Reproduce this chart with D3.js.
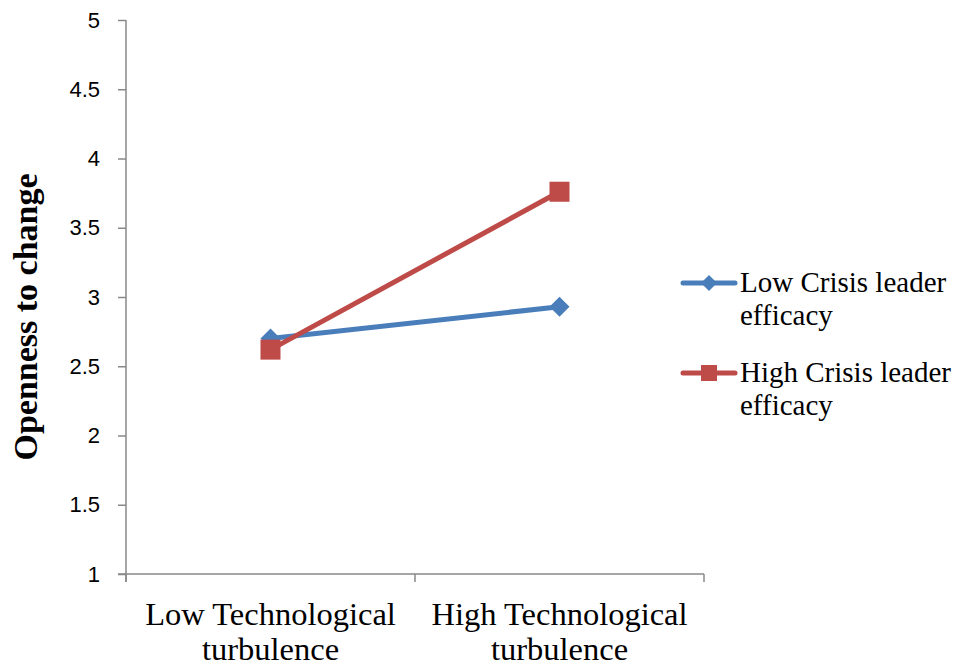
<!DOCTYPE html>
<html>
<head>
<meta charset="utf-8">
<script src="https://cdn.jsdelivr.net/npm/d3@7"></script>
<style>
  html, body { margin: 0; padding: 0; background: #fff; }
  svg { display: block; }
</style>
</head>
<body>
<div id="chart"></div>
<script>
// ---- data ----
const categories = [["Low Technological", "turbulence"], ["High Technological", "turbulence"]];
const seriesNames = [["Low Crisis leader", "efficacy"], ["High Crisis leader", "efficacy"]];
const lowCrisisValues = [2.70, 2.93];
const highCrisisValues = [2.62, 3.76];
const yTicks = [1, 1.5, 2, 2.5, 3, 3.5, 4, 4.5, 5];
const yTitle = "Openness to change";

const W = 958, H = 669;
const svg = d3.select("#chart").append("svg").attr("width", W).attr("height", H);

const x = d3.scaleBand().domain([0, 1]).range([126, 704]);
const y = d3.scaleLinear().domain([1, 5]).range([574, 20]);

const axisColor = "#898989";

// y axis
const yAxis = d3.axisLeft(y).tickValues(yTicks).tickSize(8).tickPadding(18)
  .tickFormat(d => String(d));
const gy = svg.append("g").attr("transform", "translate(126,0)").call(yAxis);
gy.select(".domain").remove();
gy.append("line").attr("x1", 0).attr("x2", 0).attr("y1", y(5)).attr("y2", y(1) + 8)
  .attr("stroke", axisColor).attr("stroke-width", 1.5);
gy.selectAll(".tick line").attr("stroke", axisColor).attr("stroke-width", 1.5);
gy.selectAll(".tick text").attr("fill", "#000")
  .style("font-family", "'Liberation Sans', Arial, sans-serif").style("font-size", "22px");

// x axis
const gx = svg.append("g").attr("transform", "translate(0,574)");
gx.append("line").attr("x1", 118).attr("x2", 704).attr("y1", 0).attr("y2", 0)
  .attr("stroke", axisColor).attr("stroke-width", 1.5);
const xEdges = [x(0), x(1), x(1) + x.bandwidth()];
gx.selectAll("line.tk").data(xEdges).enter().append("line").attr("class", "tk")
  .attr("x1", d => d).attr("x2", d => d).attr("y1", 0).attr("y2", 8)
  .attr("stroke", axisColor).attr("stroke-width", 1.5);

const serif = "'Liberation Serif', 'Times New Roman', serif";
categories.forEach((lines, i) => {
  const t = svg.append("text").attr("text-anchor", "middle")
    .style("font-family", serif).style("font-size", "32.5px").attr("fill", "#000");
  lines.forEach((ln, j) => {
    t.append("tspan").attr("x", x(i) + x.bandwidth() / 2).attr("y", 625 + j * 35).text(ln);
  });
});

// y title
svg.append("text")
  .attr("transform", "translate(37,317) rotate(-90)")
  .attr("text-anchor", "middle")
  .style("font-family", serif).style("font-size", "34px").style("font-weight", "bold")
  .attr("fill", "#000").text(yTitle);

// series
const series = [
  { name: seriesNames[0], values: lowCrisisValues, color: "#4a7ebb", marker: "diamond" },
  { name: seriesNames[1], values: highCrisisValues, color: "#be4b48", marker: "square" }
];
const cx = i => x(i) + x.bandwidth() / 2;
const line = d3.line().x((d, i) => cx(i)).y(d => y(d));

function drawMarker(g, type, px, py, s, color) {
  if (type === "diamond") {
    g.append("path").attr("d", `M${px},${py - s}L${px + s},${py}L${px},${py + s}L${px - s},${py}Z`)
      .attr("fill", color);
  } else {
    g.append("rect").attr("x", px - s).attr("y", py - s).attr("width", 2 * s).attr("height", 2 * s)
      .attr("fill", color);
  }
}

series.forEach(s => {
  const g = svg.append("g");
  g.append("path").datum(s.values).attr("d", line).attr("fill", "none")
    .attr("stroke", s.color).attr("stroke-width", 5).attr("stroke-linecap", "round");
  s.values.forEach((v, i) => drawMarker(g, s.marker, cx(i), y(v), 10, s.color));
});

// legend
series.forEach((s, k) => {
  const ly = 283 + k * 90;
  const g = svg.append("g");
  g.append("line").attr("x1", 683).attr("x2", 735).attr("y1", ly).attr("y2", ly)
    .attr("stroke", s.color).attr("stroke-width", 5).attr("stroke-linecap", "round");
  drawMarker(g, s.marker, 709, ly, 8, s.color);
  const t = g.append("text").style("font-family", serif).style("font-size", "29px").attr("fill", "#000");
  s.name.forEach((ln, j) => {
    t.append("tspan").attr("x", 740).attr("y", ly + 9 + j * 33).text(ln);
  });
});
</script>
</body>
</html>
